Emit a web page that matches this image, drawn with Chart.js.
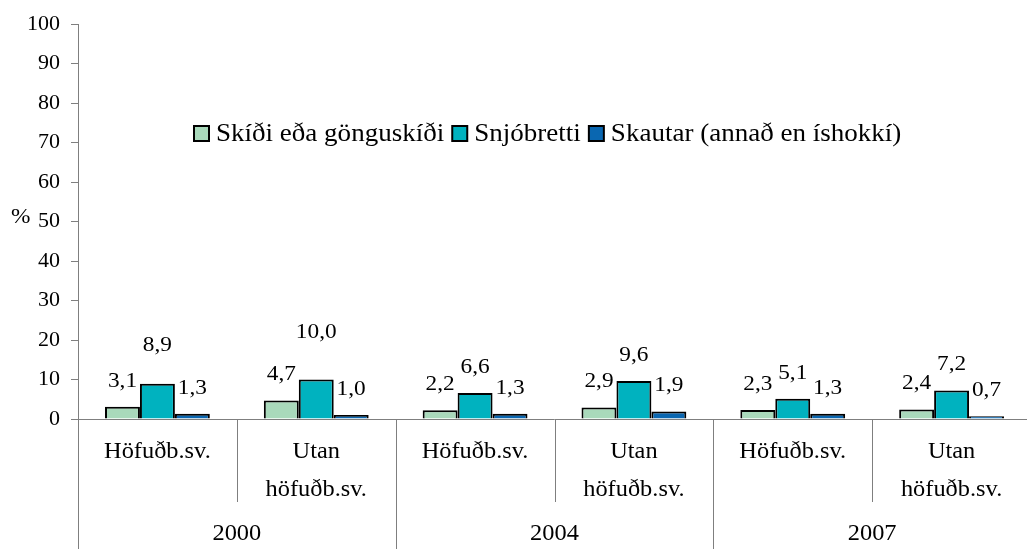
<!DOCTYPE html>
<html>
<head>
<meta charset="utf-8">
<script src="https://cdn.jsdelivr.net/npm/chart.js@4/dist/chart.umd.min.js"></script>
<style>
  html, body { margin: 0; padding: 0; background: #fff; overflow: hidden; }
  canvas { display: block; }
</style>
</head>
<body>
<canvas id="chart" width="1040" height="549"></canvas>
<script>
// ---- data ----
const regions = ['Höfuðb.sv.', 'Utan höfuðb.sv.', 'Höfuðb.sv.', 'Utan höfuðb.sv.', 'Höfuðb.sv.', 'Utan höfuðb.sv.'];
const years = ['2000', '2004', '2007'];
const seriesNames = ['Skíði eða gönguskíði', 'Snjóbretti', 'Skautar (annað en íshokkí)'];
const skidi = [3.1, 4.7, 2.2, 2.9, 2.3, 2.4];
const snjobretti = [8.9, 10.0, 6.6, 9.6, 5.1, 7.2];
const skautar = [1.3, 1.0, 1.3, 1.9, 1.3, 0.7];
const yTicks = [0, 10, 20, 30, 40, 50, 60, 70, 80, 90, 100];

const colors = ['#a9d9bb', '#00b2bf', '#0a67b1'];
const FONT = '"Liberation Serif", "Times New Roman", serif';
const AXIS_GRAY = '#7f7f7f';
const STRETCH = 1.06;   // text in the original is a little wide

// extra lift (px) for labels Excel pushed upward to avoid overlap
const labelLift = [[0, 0, 0, 0, 0, 0], [13, 21, 0, 0, 0, 0], [0, 0, 0, 0, 0, 0]];

function fmt(v) {
    return v.toFixed(1).replace('.', ',');
}

// draw text slightly stretched horizontally, returns drawn width
function wideText(ctx, text, x, y, align) {
    const w = ctx.measureText(text).width * STRETCH;
    let left = x;
    if (align === 'center') left = x - w / 2;
    else if (align === 'right') left = x - w;
    ctx.save();
    ctx.textAlign = 'left';
    ctx.translate(left, y);
    ctx.scale(STRETCH, 1);
    ctx.fillText(text, 0, 0);
    ctx.restore();
    return w;
}

// ---- custom drawing: axis extensions, category labels, data labels, legend ----
const decorations = {
    id: 'decorations',
    afterDatasetsDraw(chart) {
        const ctx = chart.ctx;
        const x = chart.scales.x;
        const area = chart.chartArea;
        const H = chart.height;
        const half = (x.getPixelForValue(1) - x.getPixelForValue(0)) / 2;

        ctx.save();
        ctx.strokeStyle = AXIS_GRAY;
        ctx.lineWidth = 1;

        // zero line
        ctx.beginPath();
        ctx.moveTo(area.left, Math.round(area.bottom) + 0.5);
        ctx.lineTo(area.right, Math.round(area.bottom) + 0.5);
        ctx.stroke();

        // vertical separators
        for (let i = 0; i <= regions.length; i++) {
            const px = Math.round(x.getPixelForValue(i) - half) + 0.5;
            const yearEdge = i % 2 === 0;
            ctx.beginPath();
            ctx.moveTo(px, area.bottom);
            ctx.lineTo(px, yearEdge ? H : area.bottom + 83);
            ctx.stroke();
        }

        // category labels
        ctx.fillStyle = '#000';
        ctx.font = '23px ' + FONT;
        ctx.textBaseline = 'middle';
        regions.forEach((r, i) => {
            const cx = x.getPixelForValue(i);
            if (r.startsWith('Utan')) {
                wideText(ctx, 'Utan', cx, area.bottom + 33, 'center');
                wideText(ctx, 'höfuðb.sv.', cx, area.bottom + 71, 'center');
            } else {
                wideText(ctx, r, cx, area.bottom + 33, 'center');
            }
        });
        years.forEach((yr, k) => {
            const cx = (x.getPixelForValue(2 * k) + x.getPixelForValue(2 * k + 1)) / 2;
            wideText(ctx, yr, cx, area.bottom + 115, 'center');
        });

        // data labels
        ctx.font = '22px ' + FONT;
        chart.data.datasets.forEach((ds, di) => {
            const meta = chart.getDatasetMeta(di);
            meta.data.forEach((bar, i) => {
                wideText(ctx, fmt(ds.data[i]), bar.x, bar.y - 26 - labelLift[di][i], 'center');
            });
        });

        // % label
        wideText(ctx, '%', 11, chart.scales.y.getPixelForValue(50) - 4, 'left');

        // legend
        ctx.font = '25.5px ' + FONT;
        let lx = 194;
        const ly = 133;
        seriesNames.forEach((name, i) => {
            ctx.fillStyle = colors[i];
            ctx.fillRect(lx, ly - 7, 15, 15);
            ctx.strokeStyle = '#000';
            ctx.lineWidth = 2;
            ctx.strokeRect(lx, ly - 7, 15, 15);
            ctx.fillStyle = '#000';
            const w = wideText(ctx, name, lx + 22, ly + 1, 'left');
            lx += 22 + w + 8;
        });
        ctx.restore();
    }
};

new Chart(document.getElementById('chart'), {
    type: 'bar',
    data: {
        labels: regions,
        datasets: [skidi, snjobretti, skautar].map((vals, i) => ({
            label: seriesNames[i],
            data: vals,
            backgroundColor: colors[i],
            borderColor: '#000',
            borderWidth: 2,
            categoryPercentage: 0.66,
            barPercentage: 1.0
        }))
    },
    options: {
        responsive: false,
        animation: false,
        layout: { padding: { left: 0, top: 19, right: 9, bottom: 130 } },
        plugins: {
            legend: { display: false },
            tooltip: { enabled: false }
        },
        scales: {
            x: { display: false },
            y: {
                min: 0,
                max: 100,
                afterBuildTicks: scale => { scale.ticks = yTicks.map(v => ({ value: v })); },
                afterFit: scale => { scale.width = 78; },
                border: { display: true, color: AXIS_GRAY, width: 1 },
                grid: { drawOnChartArea: false, drawTicks: true, tickLength: 7, color: AXIS_GRAY },
                ticks: {
                    padding: 11,
                    color: '#000',
                    font: { family: FONT, size: 22 }
                }
            }
        }
    },
    plugins: [decorations]
});
</script>
</body>
</html>
